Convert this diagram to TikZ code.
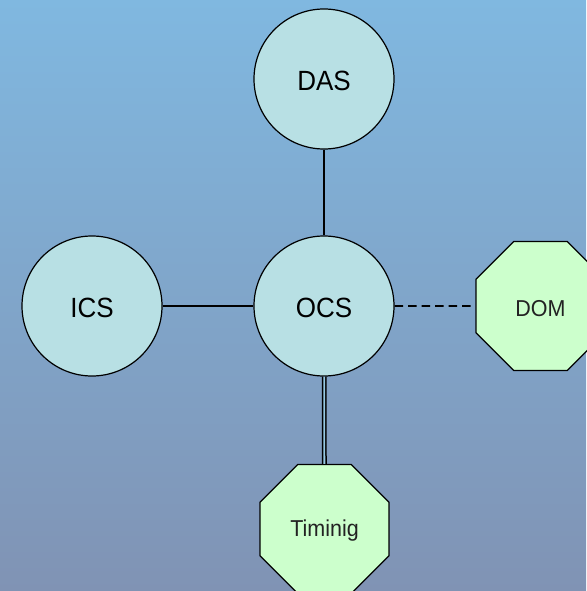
\documentclass[tikz,border=0pt]{standalone}
\usepackage{fontspec}
\setmainfont{Liberation Sans}
\usetikzlibrary{shapes.geometric}
\definecolor{bgtop}{HTML}{80B8E0}
\definecolor{bgbot}{HTML}{8093B4}
\definecolor{circfill}{HTML}{B8E0E4}
\definecolor{octfill}{HTML}{CCFFCC}
\definecolor{octtext}{HTML}{222222}
\newcommand{\lowtxt}[2]{\raisebox{-#1}[\height][\depth]{\scalebox{1}[1.07]{#2}}}
\tikzset{
  sysnode/.style={circle, draw=black, line width=1.2pt, fill=circfill, minimum size=140pt, inner sep=0pt,
    font=\fontsize{26}{26}\selectfont},
  octnode/.style={regular polygon, regular polygon sides=8, draw=black, line width=1.2pt, fill=octfill,
    minimum size=139.6pt, inner sep=0pt, text=octtext, font=\fontsize{21.5}{21.5}\selectfont},
  link/.style={draw=black, line width=1.3pt},
  dashlink/.style={draw=black, line width=1.8pt, dash pattern=on 8.5pt off 5pt},
  dbllink/.style={draw=black, line width=1.5pt, double=bgtop!60!circfill, double distance=1.8pt}
}
\begin{document}
\begin{tikzpicture}[x=1pt,y=-1pt]
\shade[top color=bgtop, bottom color=bgbot] (0,0) rectangle (586,591);
\useasboundingbox (0,0) rectangle (586,591);
\node[sysnode] (das) at (324,79) {\lowtxt{2pt}{DAS}};
\node[sysnode] (ocs) at (324,306) {\lowtxt{2pt}{OCS}};
\node[sysnode] (ics) at (92,306) {\lowtxt{2pt}{ICS}};
\node[octnode] (dom) at (540.5,306) {\lowtxt{3pt}{DOM}};
\node[octnode] (tim) at (324.5,529) {\lowtxt{2pt}{Timinig}};
\draw[link] (das) -- (ocs);
\draw[link] (ics) -- (ocs);
\draw[dashlink] (ocs) -- (dom);
\draw[dbllink] (ocs) -- (tim);
\end{tikzpicture}
\end{document}
